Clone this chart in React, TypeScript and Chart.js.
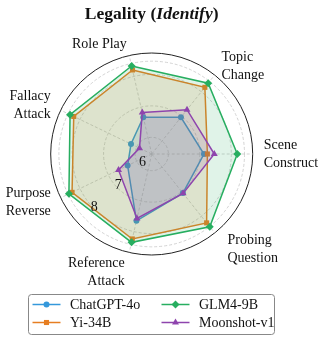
import React, { useEffect, useRef } from 'react';
import { Chart, registerables } from 'chart.js';

Chart.register(...registerables);

const titleMain = 'Legality';
const titleItalic = 'Identify';
const categories: string[][] = [
  ['Role Play'],
  ['Topic', 'Change'],
  ['Scene', 'Construct'],
  ['Probing', 'Question'],
  ['Reference', 'Attack'],
  ['Purpose', 'Reverse'],
  ['Fallacy', 'Attack'],
];
const seriesNames = ['ChatGPT-4o', 'Yi-34B', 'GLM4-9B', 'Moonshot-v1'];
const chatgptValues = [6.67, 6.96, 7.13, 7.06, 7.65, 6.32, 6.2];
const yiValues = [8.21, 8.18, 7.24, 8.27, 8.24, 8.28, 8.22];
const glmValues = [8.34, 8.35, 8.19, 8.43, 8.35, 8.39, 8.35];
const moonshotValues = [6.82, 7.27, 7.46, 7.07, 7.57, 6.64, 5.9];
const tickValues = [6, 7, 8];
const extraGridValues = [8.42];
const rMin = 5.47;
const rMax = 8.68;

const colors = ['#3498db', '#e67e22', '#27ae60', '#8e44ad'];
const markers = ['circle', 'rect', 'rectRot', 'triangle'];
const markerRadius = [3, 3.6, 4, 4];

const FONT_FAMILY = "'Liberation Serif', 'Times New Roman', serif";

function rgba(hex: string, a: number) {
  const n = parseInt(hex.slice(1), 16);
  return `rgba(${(n >> 16) & 255},${(n >> 8) & 255},${n & 255},${a})`;
}

function drawMarker(ctx: CanvasRenderingContext2D, style: string, x: number, y: number, r: number) {
  ctx.beginPath();
  if (style === 'circle') {
    ctx.arc(x, y, r, 0, Math.PI * 2);
  } else if (style === 'rect') {
    const s = r * Math.SQRT1_2;
    ctx.rect(x - s, y - s, 2 * s, 2 * s);
  } else if (style === 'rectRot') {
    ctx.moveTo(x, y - r);
    ctx.lineTo(x + r, y);
    ctx.lineTo(x, y + r);
    ctx.lineTo(x - r, y);
    ctx.closePath();
  } else {
    ctx.moveTo(x, y - r);
    ctx.lineTo(x + r * 0.866, y + r * 0.5);
    ctx.lineTo(x - r * 0.866, y + r * 0.5);
    ctx.closePath();
  }
  ctx.fill();
}

const overlayPlugin = {
  id: 'overlay',
  afterDraw(chart: any) {
    const ctx: CanvasRenderingContext2D = chart.ctx;
    const s = chart.scales.r;
    ctx.save();
    ctx.fillStyle = '#111';

    // point (category) labels
    ctx.font = `14px ${FONT_FAMILY}`;
    ctx.textBaseline = 'middle';
    categories.forEach((lines, i) => {
      const a = s.getIndexAngle(i) - Math.PI / 2;
      const cos = Math.cos(a);
      const sin = Math.sin(a);
      const d = s.drawingArea + (sin > 0.5 ? 20.5 : 11);
      const p = s.getPointPosition(i, d);
      ctx.textAlign = cos > 0.1 ? 'left' : cos < -0.1 ? 'right' : 'center';
      const lh = 18;
      lines.forEach((t, k) => {
        ctx.fillText(t, p.x, p.y + (k - (lines.length - 1) / 2) * lh);
      });
    });

    // radial tick labels
    const ang = (137 * Math.PI) / 180;
    ctx.textAlign = 'center';
    tickValues.forEach((v, k) => {
      const r = s.getDistanceFromCenterForValue(v) - 4 + k * 1.5;
      ctx.fillText(String(v), s.xCenter + Math.cos(ang) * r, s.yCenter + Math.sin(ang) * r);
    });

    // title
    const boldFont = `bold 17.5px ${FONT_FAMILY}`;
    const italicFont = `italic bold 17.5px ${FONT_FAMILY}`;
    const p1 = `${titleMain} (`;
    const p3 = ')';
    ctx.font = boldFont;
    const w1 = ctx.measureText(p1).width;
    const w3 = ctx.measureText(p3).width;
    ctx.font = italicFont;
    const w2 = ctx.measureText(titleItalic).width;
    let tx = s.xCenter - (w1 + w2 + w3) / 2;
    const ty = 14;
    ctx.textAlign = 'left';
    ctx.font = boldFont;
    ctx.fillText(p1, tx, ty);
    tx += w1;
    ctx.font = italicFont;
    ctx.fillText(titleItalic, tx, ty);
    tx += w2;
    ctx.font = boldFont;
    ctx.fillText(p3, tx, ty);

    // legend
    const bx = 28.5, by = 294.5, bw = 246, bh = 40, br = 3;
    ctx.beginPath();
    ctx.moveTo(bx + br, by);
    ctx.arcTo(bx + bw, by, bx + bw, by + bh, br);
    ctx.arcTo(bx + bw, by + bh, bx, by + bh, br);
    ctx.arcTo(bx, by + bh, bx, by, br);
    ctx.arcTo(bx, by, bx + bw, by, br);
    ctx.closePath();
    ctx.fillStyle = 'rgba(255,255,255,0.8)';
    ctx.fill();
    ctx.strokeStyle = '#888';
    ctx.lineWidth = 1;
    ctx.stroke();

    const colX = [32.5, 161.5];
    const rowY = [304.5, 322.5];
    ctx.font = `14px ${FONT_FAMILY}`;
    chart.data.datasets.forEach((ds: any, k: number) => {
      const col = Math.floor(k / 2);
      const row = k % 2;
      const x0 = colX[col];
      const y0 = rowY[row];
      ctx.strokeStyle = ds.borderColor;
      ctx.lineWidth = 1.5;
      ctx.beginPath();
      ctx.moveTo(x0, y0);
      ctx.lineTo(x0 + 28, y0);
      ctx.stroke();
      ctx.fillStyle = ds.borderColor;
      drawMarker(ctx, ds.pointStyle, x0 + 14, y0, ds.pointRadius);
      ctx.fillStyle = '#111';
      ctx.textAlign = 'left';
      ctx.fillText(ds.label, x0 + 37.5, y0 + 0.5);
    });

    ctx.restore();
  },
};

export default function App() {
  const ref = useRef<HTMLCanvasElement>(null);
  useEffect(() => {
    if (!ref.current) return;
    const seriesData = [chatgptValues, yiValues, glmValues, moonshotValues];
    const chart = new Chart(ref.current, {
      type: 'radar',
      data: {
        labels: categories.map((c) => c.join(' ')),
        datasets: seriesNames.map((name, i) => ({
          label: name,
          data: seriesData[i],
          borderColor: colors[i],
          backgroundColor: rgba(colors[i], 0.145),
          borderWidth: 1.5,
          pointStyle: markers[i] as any,
          pointRadius: markerRadius[i],
          pointBackgroundColor: colors[i],
          pointBorderColor: colors[i],
          pointBorderWidth: 0,
          fill: true,
          order: seriesNames.length - 1 - i,
        })),
      },
      options: {
        responsive: false,
        animation: false,
        layout: { padding: 0 },
        elements: { line: { tension: 0 } },
        plugins: {
          legend: { display: false },
          title: { display: false },
          tooltip: { enabled: false },
        },
        scales: {
          r: {
            min: rMin,
            max: rMax,
            startAngle: -360 / 28,
            afterBuildTicks: (sc: any) => {
              sc.ticks = [rMin, ...tickValues, ...extraGridValues, rMax].map((v) => ({ value: v }));
            },
            afterFit: (sc: any) => {
              sc.xCenter = 151.7;
              sc.yCenter = 154;
              sc.drawingArea = 101;
            },
            ticks: { display: false },
            pointLabels: { display: false },
            grid: {
              circular: true,
              color: (c: any) => (c.tick && c.tick.value === rMax ? '#222' : '#c8c8c8'),
              lineWidth: (c: any) => (c.tick && c.tick.value === rMax ? 1 : 0.8),
            },
            border: {
              dash: (c: any) => (c.tick && c.tick.value === rMax ? [] : [3, 2]),
            },
            angleLines: { color: '#c8c8c8', lineWidth: 0.8, borderDash: [3, 2] },
          } as any,
        },
      },
      plugins: [overlayPlugin],
    });
    return () => chart.destroy();
  }, []);
  return (
    <div style={{ position: 'fixed', left: 0, top: 0, width: 324, height: 340, background: '#fff' }}>
      <canvas ref={ref} width={324} height={340} style={{ display: 'block' }} />
    </div>
  );
}
